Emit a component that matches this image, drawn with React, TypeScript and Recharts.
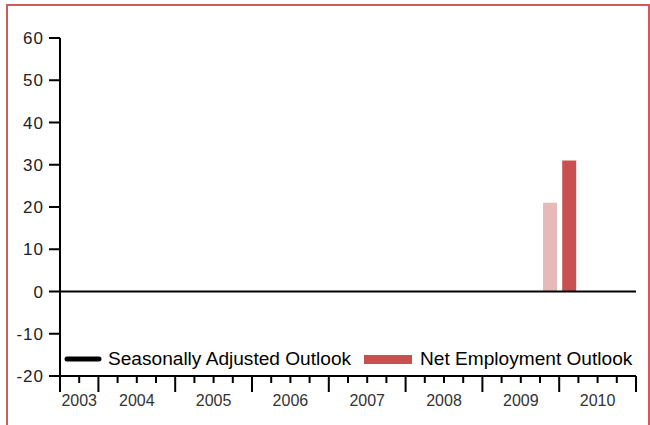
import React from 'react';
import {
  Bar,
  Cell,
  ComposedChart,
  Legend,
  Line,
  ReferenceLine,
  XAxis,
  YAxis,
} from 'recharts';

// quarters shown on the axis (2003 Q3 .. 2010 Q4)
const quarters = [
  '2003 Q3', '2003 Q4',
  '2004 Q1', '2004 Q2', '2004 Q3', '2004 Q4',
  '2005 Q1', '2005 Q2', '2005 Q3', '2005 Q4',
  '2006 Q1', '2006 Q2', '2006 Q3', '2006 Q4',
  '2007 Q1', '2007 Q2', '2007 Q3', '2007 Q4',
  '2008 Q1', '2008 Q2', '2008 Q3', '2008 Q4',
  '2009 Q1', '2009 Q2', '2009 Q3', '2009 Q4',
  '2010 Q1', '2010 Q2', '2010 Q3', '2010 Q4',
];

// only the last two surveys are plotted
const netOutlook: (number | null)[] = [
  null, null,
  null, null, null, null,
  null, null, null, null,
  null, null, null, null,
  null, null, null, null,
  null, null, null, null,
  null, null, null, 21,
  31, null, null, null,
];

// no seasonally adjusted values yet
const seasonallyAdjusted: (number | null)[] = quarters.map(() => null);

const barColors = ['#e8b9b9', '#c85050'];
const yTicks = [-20, -10, 0, 10, 20, 30, 40, 50, 60];

const FONT = '"Liberation Sans", Arial, Helvetica, sans-serif';

const data = quarters.map((q, i) => ({
  quarter: q,
  pos: i + 0.5,
  net: netOutlook[i],
  sa: seasonallyAdjusted[i],
}));

const plotted = data.filter((d) => d.net !== null);

const yearOf = (q: string) => q.split(' ')[0];

// x ticks sit on quarter boundaries
const xTicks = Array.from({ length: quarters.length + 1 }, (_, i) => i);

// year label at middle of each year span
const yearMid: Record<number, string> = {};
quarters.forEach((q, i) => {
  const y = yearOf(q);
  if (i === 0 || yearOf(quarters[i - 1]) !== y) {
    const count = quarters.filter((x) => yearOf(x) === y).length;
    yearMid[i + count / 2] = y;
  }
});

const isYearBoundary = (v: number) =>
  v === 0 ||
  v === quarters.length ||
  yearOf(quarters[v]) !== yearOf(quarters[v - 1]);

const QuarterTick = (props: any) => {
  const { x, y, payload } = props;
  const v = payload.value as number;
  const major = isYearBoundary(v);
  const label = yearMid[v];
  return (
    <g>
      <line x1={x} x2={x} y1={y} y2={y + (major ? 16 : 7)} stroke='#000' strokeWidth={2} />
      {label && (
        <text x={x} y={y + 30} textAnchor='middle' fontSize={16} fill='#333' fontFamily={FONT}>
          {label}
        </text>
      )}
    </g>
  );
};

const LegendContent = () => (
  <div style={{ display: 'flex', alignItems: 'center', fontFamily: FONT, fontSize: 19.1, color: '#000', whiteSpace: 'nowrap' }}>
    <svg width={38} height={10} style={{ marginRight: 6 }}>
      <line x1={3} x2={35} y1={5} y2={5} stroke='#000' strokeWidth={5} strokeLinecap='round' />
    </svg>
    <span>Seasonally Adjusted Outlook</span>
    <svg width={48} height={10} style={{ marginLeft: 13, marginRight: 8 }}>
      <rect x={0} y={1} width={48} height={9} fill={barColors[1]} />
    </svg>
    <span>Net Employment Outlook</span>
  </div>
);

const App: React.FC = () => {
  return (
    <div style={{ position: 'absolute', left: 0, top: 0, width: 650, height: 425, overflow: 'hidden', background: '#fff' }}>
      <ComposedChart
        width={650}
        height={425}
        data={data}
        margin={{ top: 38, right: 14, left: 0, bottom: 0 }}
      >
        <XAxis
          dataKey='pos'
          type='number'
          domain={[0, quarters.length]}
          ticks={xTicks}
          interval={0}
          height={49}
          tickSize={0}
          tickMargin={0}
          tick={<QuarterTick />}
          axisLine={{ stroke: '#000', strokeWidth: 2 }}
        />
        <YAxis
          domain={[-20, 60]}
          ticks={yTicks}
          width={60}
          tickSize={11}
          tickMargin={5}
          axisLine={{ stroke: '#000', strokeWidth: 2 }}
          tickLine={{ stroke: '#000', strokeWidth: 2 }}
          tick={{ fill: '#222', fontSize: 17, fontFamily: FONT, letterSpacing: 1 }}
        />
        <ReferenceLine y={0} stroke='#000' strokeWidth={2} />
        <Bar dataKey='net' barSize={14} isAnimationActive={false}>
          {data.map((d) => (
            <Cell
              key={d.quarter}
              fill={d.net !== null && d === plotted[plotted.length - 1] ? barColors[1] : barColors[0]}
            />
          ))}
        </Bar>
        <Line dataKey='sa' stroke='#000' strokeWidth={4} dot={false} isAnimationActive={false} />
        <Legend
          verticalAlign='middle'
          align='center'
          layout='horizontal'
          content={<LegendContent />}
          wrapperStyle={{ left: 64, top: 348, width: 'auto' }}
        />
      </ComposedChart>
      <div
        style={{
          position: 'absolute',
          left: 6,
          top: 4,
          width: 640,
          height: 440,
          border: '2px solid #cf5a5a',
          pointerEvents: 'none',
        }}
      />
    </div>
  );
};

export default App;
